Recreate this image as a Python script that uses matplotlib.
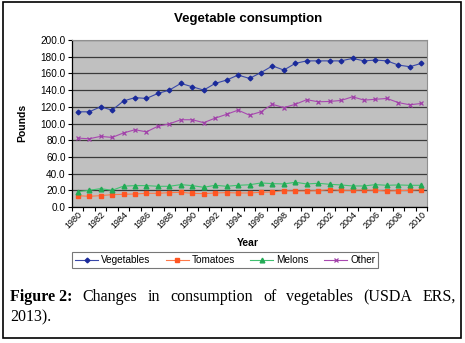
import matplotlib
matplotlib.use("Agg")
import matplotlib.pyplot as plt
from matplotlib.patches import Rectangle
from matplotlib.ticker import FixedLocator, FuncFormatter

years = list(range(1980, 2011))
vegetables = [114, 114, 120, 116, 127, 131, 130, 136, 140, 148,
              144, 140, 148, 152, 158, 154, 161, 169, 164, 172,
              175, 175, 175, 175, 178, 175, 176, 175, 170, 168, 172]
tomatoes = [13.6, 12.8, 13.6, 14.8, 15.2, 15.6, 16.4, 16.4, 17.2, 17.6,
            16.4, 16.0, 16.8, 17.2, 16.8, 16.8, 17.6, 18.0, 19.6, 19.2,
            19.2, 19.6, 20.8, 20.0, 20.0, 20.4, 20.0, 19.2, 19.6, 20.0, 20.8]
melons = [18.4, 20.0, 22.0, 20.0, 25.0, 25.6, 25.6, 24.8, 24.8, 26.8,
          25.6, 23.6, 26.0, 24.8, 26.0, 26.6, 28.8, 28.0, 27.6, 29.6,
          27.6, 28.4, 27.2, 26.4, 25.2, 25.2, 26.8, 26.0, 26.4, 26.0, 26.0]
other = [82.5, 81.7, 84.6, 83.3, 88.7, 92.5, 90.0, 96.7, 99.6, 104.5,
         104.5, 101.0, 106.4, 111.0, 116.0, 110.0, 114.0, 123.0, 119.0, 123.0,
         128.5, 126.0, 126.4, 127.6, 132.0, 128.0, 129.0, 130.0, 125.0, 122.4, 124.0]
series_names = ["Vegetables", "Tomatoes", "Melons", "Other"]
title = "Vegetable consumption"
xlabel = "Year"
ylabel = "Pounds"
caption_bold = "Figure 2:"
caption_line1 = "Changes in consumption of vegetables (USDA ERS,"
caption_line2 = "2013)."

W, H = 465, 343
fig = plt.figure(figsize=(W / 100, H / 100), dpi=100)
plt.rcParams['font.family'] = ['Liberation Sans', 'DejaVu Sans']

ax = fig.add_axes([72 / W, 1 - 207 / H, (427 - 72) / W, (207 - 40) / H])
ax.set_facecolor('#C0C0C0')

x = list(range(len(years)))
ax.plot(x, vegetables, color='#3848A8', lw=0.8, marker='D', ms=2.4,
        mfc='#1a2a9a', mec='#1a2a9a', label=series_names[0], zorder=3)
ax.plot(x, tomatoes, color='#FF7848', lw=0.8, marker='s', ms=3.0,
        mfc='#FF5522', mec='#FF5522', label=series_names[1], zorder=3)
ax.plot(x, melons, color='#40C070', lw=0.8, marker='^', ms=3.4,
        mfc='#22AA55', mec='#22AA55', label=series_names[2], zorder=3)
ax.plot(x, other, color='#A848B0', lw=0.8, marker='x', ms=3.4, mew=0.9,
        mfc='#A040A8', mec='#A040A8', label=series_names[3], zorder=3)

ax.set_xlim(-0.5, len(years) - 0.5)
ax.set_ylim(0, 200)
ax.set_yticks(range(0, 201, 20))
ax.yaxis.set_major_formatter(FuncFormatter(lambda v, p: f"{v:.1f}"))
ax.grid(axis='y', color='#3a3a3a', lw=0.9)
ax.set_axisbelow(True)

ax.xaxis.set_major_locator(FixedLocator([i - 0.5 for i in range(len(years) + 1)]))
ax.xaxis.set_major_formatter(FuncFormatter(lambda v, p: ""))
ax.xaxis.set_minor_locator(FixedLocator(x[::2]))
ax.set_xticklabels([str(y) for y in years[::2]], minor=True)
ax.tick_params(axis='x', which='minor', length=0, labelsize=6.5, pad=2)
ax.tick_params(axis='x', which='major', length=3, width=0.8, direction='out')
ax.tick_params(axis='y', length=3, width=0.8, labelsize=7.2, pad=1.5)
for lab in ax.get_xticklabels(minor=True):
    lab.set_rotation(45)
    lab.set_ha('right')
    lab.set_va('top')
    lab.set_rotation_mode('anchor')

for s in ['top', 'right']:
    ax.spines[s].set_color('#909090')
    ax.spines[s].set_linewidth(0.8)
for s in ['left', 'bottom']:
    ax.spines[s].set_color('black')
    ax.spines[s].set_linewidth(0.9)

fig.text(248 / W, 1 - 19 / H, title, ha='center', va='center',
         fontsize=9.5, fontweight='bold')
fig.text(248 / W, 1 - 243 / H, xlabel, ha='center', va='center',
         fontsize=7.5, fontweight='bold')
fig.text(22 / W, 1 - 123 / H, ylabel, ha='center', va='center',
         fontsize=7.5, fontweight='bold', rotation=90)

leg = fig.legend(loc='lower left', ncol=4, mode='expand',
                 bbox_to_anchor=(72 / W, 1 - 268 / H, (378 - 72) / W, 17 / H),
                 fontsize=7.2, frameon=True, fancybox=False, handlelength=2.3,
                 handletextpad=0.3, borderpad=0.3, borderaxespad=0)
leg.get_frame().set_edgecolor('#555555')
leg.get_frame().set_linewidth(0.8)

# Outer border
fig.patches.append(Rectangle((3 / W, 1 - 338 / H), (461 - 3) / W, (338 - 2) / H,
                             transform=fig.transFigure, fill=False,
                             edgecolor='black', lw=1.2))

# Caption, justified on line 1
cap_fs = 11.5
fig.canvas.draw()
renderer = fig.canvas.get_renderer()
words = [(caption_bold, 'bold')] + [(w, 'normal') for w in caption_line1.split()]
left_px, right_px = 10, 456
y1 = 1 - 297 / H
texts = []
widths = []
for w, fw in words:
    t = fig.text(0, y1, w, fontsize=cap_fs, fontweight=fw,
                 family=['Liberation Serif', 'DejaVu Serif'], va='center', ha='left')
    bb = t.get_window_extent(renderer=renderer)
    texts.append(t)
    widths.append(bb.width)
gap = (right_px - left_px - sum(widths)) / (len(words) - 1)
pos = left_px
for t, wd in zip(texts, widths):
    t.set_x(pos / W)
    pos += wd + gap
fig.text(left_px / W, 1 - 317 / H, caption_line2, fontsize=cap_fs,
         family=['Liberation Serif', 'DejaVu Serif'], va='center', ha='left')

fig.savefig("out.png", dpi=100)
